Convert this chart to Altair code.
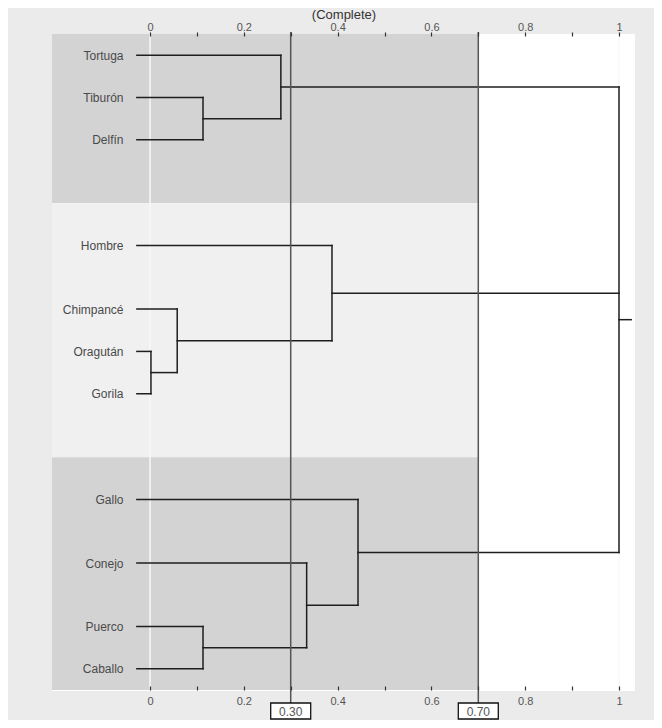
import json
import altair as alt
import pandas as pd

# ---------------- data ----------------
leaves = ["Tortuga", "Tiburón", "Delfín", "Hombre", "Chimpancé", "Oragután",
          "Gorila", "Gallo", "Conejo", "Puerco", "Caballo"]
leaf_rows = [1, 3, 5, 10, 13, 15, 17, 22, 25, 28, 30]
leaf_start = -0.028

# merges: children (node ids; leaves are 0..10, merges follow) and height
merge_children = [[5, 6], [4, 11], [1, 2], [9, 10], [0, 13], [8, 14],
                  [3, 12], [7, 16], [15, 17, 18]]
merge_heights = [0.002, 0.058, 0.113, 0.113, 0.279, 0.334, 0.388, 0.4435, 1.0]
root_stub_end = 1.026

band_edges = [0, 8, 20, 31]
band_colors = ["#d3d3d3", "#f0f0f0", "#d3d3d3"]
band_right = 0.7

cut_values = [0.3, 0.7]
cut_labels = ["0.30", "0.70"]
grid_values = [0, 1]

x_ticks = [0, 0.1, 0.2, 0.3, 0.4, 0.5, 0.6, 0.7, 0.8, 0.9, 1.0]
x_domain = [-0.209, 1.032]
y_domain = [0, 31]

title_text = "(Complete)"

FONT = "Liberation Sans"

# ---------------- build tables ----------------
node_y = {i: r for i, r in enumerate(leaf_rows)}
node_h = {i: leaf_start for i in range(len(leaves))}
segs = []
for k, (ch, h) in enumerate(zip(merge_children, merge_heights)):
    nid = len(leaves) + k
    ys = [node_y[c] for c in ch]
    for c in ch:
        segs.append({"x": node_h[c], "x2": h, "y": node_y[c], "y2": node_y[c]})
    segs.append({"x": h, "x2": h, "y": min(ys), "y2": max(ys)})
    node_y[nid] = (min(ys) + max(ys)) / 2
    node_h[nid] = h
root = len(leaves) + len(merge_children) - 1
segs.append({"x": node_h[root], "x2": root_stub_end, "y": node_y[root], "y2": node_y[root]})
seg_df = pd.DataFrame(segs)

band_df = pd.DataFrame({
    "x": [x_domain[0]] * 3,
    "x2": [band_right] * 3,
    "y": band_edges[:-1],
    "y2": band_edges[1:],
    "c": band_colors,
})
cut_df = pd.DataFrame({"v": cut_values, "lab": cut_labels})
grid_df = pd.DataFrame({"v": grid_values})
title_df = pd.DataFrame({"t": [title_text]})

xscale = alt.Scale(domain=x_domain, nice=False, zero=False)
yscale = alt.Scale(domain=y_domain, reverse=True, nice=False, zero=False)

label_arr = [""] * (y_domain[1] + 1)
for r, n in zip(leaf_rows, leaves):
    label_arr[r] = n
leaf_expr = json.dumps(label_arr, ensure_ascii=False) + "[datum.value]"
tick_expr = "round(datum.value*10) % 2 == 0 ? format(datum.value, '~g') : ''"

bottom_axis = alt.Axis(orient="bottom", values=x_ticks, labelExpr=tick_expr, offset=-4,
                       tickSize=4, tickColor="#333", tickWidth=1.2, domain=False, grid=False,
                       labelPadding=5, labelFontSize=11, labelColor="#555", labelFont=FONT,
                       labelOverlap=False, labelFlush=False, title=None, zindex=1)
top_axis = alt.Axis(orient="top", values=x_ticks, labelExpr=tick_expr, offset=-2,
                    tickSize=4, tickColor="#333", tickWidth=1.2, domain=False, grid=False,
                    labelPadding=0, labelFontSize=11, labelColor="#555", labelFont=FONT,
                    labelOverlap=False, labelFlush=False, title=None, zindex=1)
leaf_axis = alt.Axis(orient="left", values=leaf_rows, labelExpr=leaf_expr, offset=-71,
                     ticks=False, tickSize=0, domain=False, grid=False, labelPadding=0,
                     labelFontSize=12, labelColor="#4a4a4a", labelFont=FONT,
                     labelOverlap=False, labelFlush=False, title=None, zindex=1)

bands = alt.Chart(band_df).mark_rect().encode(
    x=alt.X("x:Q", scale=xscale, axis=bottom_axis),
    x2="x2",
    y=alt.Y("y:Q", scale=yscale, axis=None),
    y2="y2",
    color=alt.Color("c:N", scale=None),
)

grid = alt.Chart(grid_df).mark_rule(color="#f8f8f8", strokeWidth=1.5).encode(
    x=alt.X("v:Q", scale=xscale, axis=top_axis),
    y=alt.value(0),
    y2=alt.value(656),
)

tree = alt.Chart(seg_df).mark_rule(color="#1e1e1e", strokeWidth=1.5, strokeCap="square").encode(
    x=alt.X("x:Q", scale=xscale, axis=None),
    x2="x2",
    y=alt.Y("y:Q", scale=yscale, axis=leaf_axis),
    y2="y2",
)

cuts = alt.Chart(cut_df).mark_rule(color="#555", strokeWidth=1.5).encode(
    x=alt.X("v:Q", scale=xscale, axis=None),
    y=alt.value(-2),
    y2=alt.value(669),
)

boxes = alt.Chart(cut_df).mark_point(
    shape="M-1,-0.4H1V0.4H-1Z", size=1600, filled=True, fill="white",
    stroke="#111", strokeWidth=1.3, opacity=1,
).encode(
    x=alt.X("v:Q", scale=xscale, axis=None),
    y=alt.value(677),
)

box_text = alt.Chart(cut_df).mark_text(fontSize=12, color="#555", font=FONT,
                                       baseline="middle", align="center").encode(
    x=alt.X("v:Q", scale=xscale, axis=None),
    y=alt.value(677.5),
    text="lab:N",
)

title = alt.Chart(title_df).mark_text(fontSize=13, color="#333", font=FONT,
                                      baseline="top", align="center").encode(
    x=alt.value(292),
    y=alt.value(-25),
    text="t:N",
)

chart = alt.layer(bands, grid, tree, cuts, boxes, box_text, title).resolve_axis(
    x="independent", y="independent"
).properties(
    width=582,
    height=656,
    padding={"left": 44, "top": 26, "right": 20, "bottom": 30},
    autosize=alt.AutoSizeParams(type="none"),
    background="#ebebeb",
).configure_view(
    fill="white", stroke="#ffffff", strokeWidth=1
)

chart.save("out.html", embed_options={"renderer": "svg", "actions": False})
